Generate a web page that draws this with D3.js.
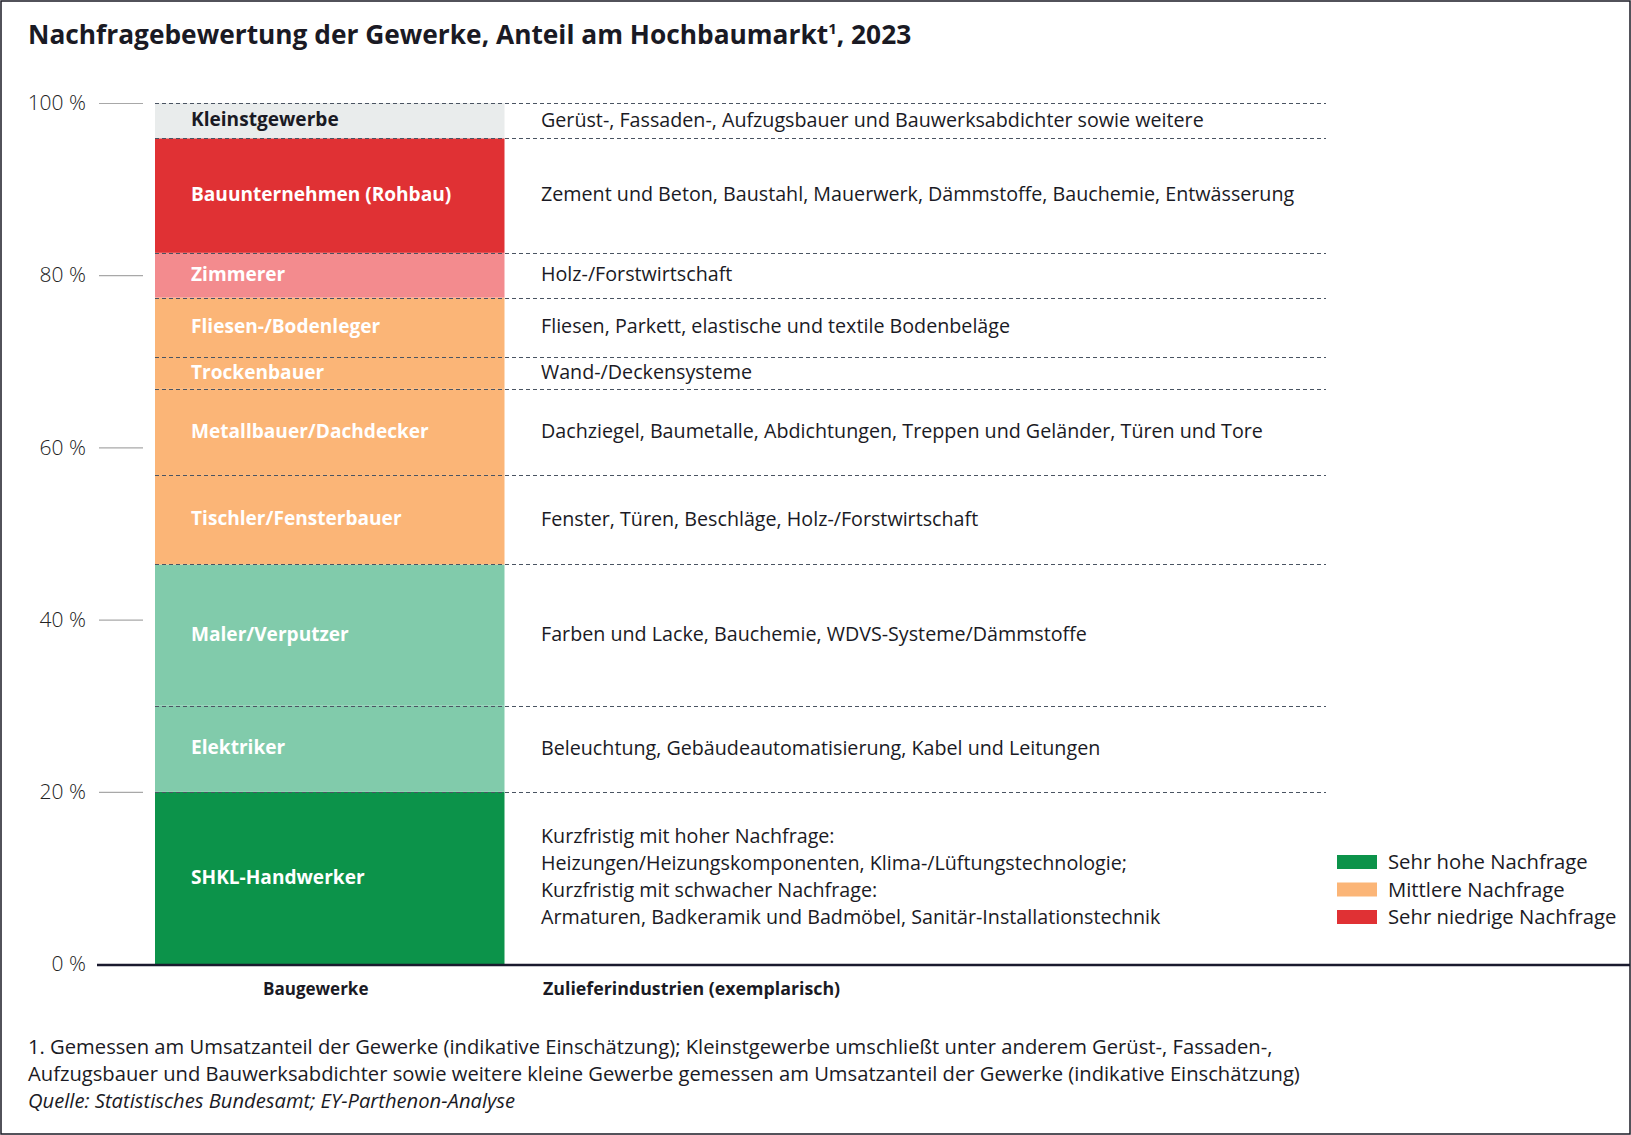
<!DOCTYPE html>
<html><head><meta charset="utf-8">
<script src="https://cdn.jsdelivr.net/npm/d3@7"></script>
<style>
html,body{margin:0;padding:0;background:#fff;}
svg{display:block;font-family:"Open Sans",sans-serif;}
</style></head>
<body>
<script>
// Data (bottom to top)
const trades = ["SHKL-Handwerker","Elektriker","Maler/Verputzer","Tischler/Fensterbauer","Metallbauer/Dachdecker","Trockenbauer","Fliesen-/Bodenleger","Zimmerer","Bauunternehmen (Rohbau)","Kleinstgewerbe"];
const shares = [20, 10, 16.4, 10.4, 10, 3.7, 6.9, 5.2, 13.3, 4.1];
const demand = ["high","highLight","highLight","mid","mid","mid","mid","lowLight","low","other"];
const suppliers = [
  ["Kurzfristig mit hoher Nachfrage:","Heizungen/Heizungskomponenten, Klima-/Lüftungstechnologie;","Kurzfristig mit schwacher Nachfrage:","Armaturen, Badkeramik und Badmöbel, Sanitär-Installationstechnik"],
  ["Beleuchtung, Gebäudeautomatisierung, Kabel und Leitungen"],
  ["Farben und Lacke, Bauchemie, WDVS-Systeme/Dämmstoffe"],
  ["Fenster, Türen, Beschläge, Holz-/Forstwirtschaft"],
  ["Dachziegel, Baumetalle, Abdichtungen, Treppen und Geländer, Türen und Tore"],
  ["Wand-/Deckensysteme"],
  ["Fliesen, Parkett, elastische und textile Bodenbeläge"],
  ["Holz-/Forstwirtschaft"],
  ["Zement und Beton, Baustahl, Mauerwerk, Dämmstoffe, Bauchemie, Entwässerung"],
  ["Gerüst-, Fassaden-, Aufzugsbauer und Bauwerksabdichter sowie weitere"]
];
const yTicks = [0, 20, 40, 60, 80, 100];
const legendLabels = ["Sehr hohe Nachfrage","Mittlere Nachfrage","Sehr niedrige Nachfrage"];
const legendKeys = ["high","mid","low"];
const title = "Nachfragebewertung der Gewerke, Anteil am Hochbaumarkt";
const footnotes = [
  "1. Gemessen am Umsatzanteil der Gewerke (indikative Einschätzung); Kleinstgewerbe umschließt unter anderem Gerüst-, Fassaden-,",
  "Aufzugsbauer und Bauwerksabdichter sowie weitere kleine Gewerbe gemessen am Umsatzanteil der Gewerke (indikative Einschätzung)"
];
const source = "Quelle: Statistisches Bundesamt; EY-Parthenon-Analyse";

const colors = {high:"#0c934a", highLight:"#81cbab", mid:"#fbb577", lowLight:"#f38b8e", low:"#e03134", other:"#e9ecec"};

const W = 1631, H = 1135;
const svg = d3.select("body").append("svg").attr("width", W).attr("height", H);

// frame
svg.append("rect").attr("x",1).attr("y",1).attr("width",W-2).attr("height",H-2)
  .attr("fill","#fff").attr("stroke","#1a1a24").attr("stroke-width",1.5);

// title
const t = svg.append("text").attr("x",28).attr("y",44)
  .attr("font-size",26.3).attr("font-weight",700).attr("fill","#1a1a24");
t.append("tspan").text(title);
t.append("tspan").text("1").attr("font-size",15).attr("dy",-10);
t.append("tspan").text(", 2023").attr("font-size",26.3).attr("dy",10);

const y = d3.scaleLinear().domain([0,100]).range([964,103]);
const barX0 = 155, barX1 = 504.5, lineEnd = 1326;

// stacked data
let acc = 0;
const segs = shares.map((s,i)=>{const d={i, name:trades[i], v0:acc, v1:acc+s, key:demand[i], sup:suppliers[i]}; acc+=s; return d;});

// y axis ticks
const axis = d3.axisLeft(y).tickValues(yTicks).tickSize(44).tickPadding(13)
  .tickFormat(d => d + " %");
const ga = svg.append("g").attr("transform",`translate(143,0)`).call(axis);
ga.select(".domain").remove();
ga.selectAll(".tick line").attr("stroke","#a8a8a8").attr("stroke-width",1.2);
ga.selectAll(".tick text").attr("font-size",21).attr("font-family","Open Sans").attr("font-weight",300).attr("fill","#222");
ga.selectAll(".tick").filter(d=>d===0).select("line").remove();

// bars
svg.append("g").selectAll("rect").data(segs).join("rect")
  .attr("x",barX0).attr("width",barX1-barX0)
  .attr("y",d=>y(d.v1)).attr("height",d=>y(d.v0)-y(d.v1))
  .attr("fill",d=>colors[d.key]);

// dashed separators
const bounds = segs.map(d=>d.v1);
svg.append("g").selectAll("line").data(bounds).join("line")
  .attr("x1",barX0).attr("x2",lineEnd)
  .attr("y1",d=>Math.round(y(d))+0.5).attr("y2",d=>Math.round(y(d))+0.5)
  .attr("stroke","#4a5462").attr("stroke-width",1.2).attr("stroke-dasharray","4,3");

// trade labels
svg.append("g").selectAll("text").data(segs).join("text")
  .attr("x",191)
  .attr("y",d=>(y(d.v0)+y(d.v1))/2 - 1)
  .attr("dy","0.35em")
  .attr("font-size",19.1).attr("font-weight",700)
  .attr("fill",d=>d.key==="other"?"#1a1a24":"#fff")
  .text(d=>d.name);

// supplier texts
const lh = 27;
const sg = svg.append("g").selectAll("text").data(segs).join("text")
  .attr("x",541)
  .attr("y",d=>(y(d.v0)+y(d.v1))/2 - 1 - (d.sup.length-1)*lh/2)
  .attr("font-size",19.7).attr("fill","#1a1a24");
sg.selectAll("tspan").data(d=>d.sup).join("tspan")
  .attr("x",541).attr("dy",(s,j)=> j===0 ? "0.35em" : lh).text(s=>s);

// baseline
svg.append("line").attr("x1",97).attr("x2",W-1).attr("y1",y(0)+1).attr("y2",y(0)+1)
  .attr("stroke","#1a1a2e").attr("stroke-width",2.5);

// column captions
svg.append("text").attr("x",(barX0+barX1)/2-14).attr("y",995).attr("text-anchor","middle")
  .attr("font-size",17).attr("font-weight",700).attr("fill","#1a1a24").text("Baugewerke");
svg.append("text").attr("x",543).attr("y",995)
  .attr("font-size",17.8).attr("font-weight",700).attr("fill","#1a1a24").text("Zulieferindustrien (exemplarisch)");

// legend
const lg = svg.append("g").selectAll("g").data(legendLabels).join("g")
  .attr("transform",(d,i)=>`translate(1337,${862 + i*27.5})`);
lg.append("rect").attr("x",0).attr("y",-7).attr("width",40).attr("height",14)
  .attr("fill",(d,i)=>colors[legendKeys[i]]);
lg.append("text").attr("x",51).attr("dy","0.35em").attr("font-size",20.3).attr("fill","#1a1a24").text(d=>d);

// footnotes
svg.append("g").selectAll("text").data(footnotes).join("text")
  .attr("x",28).attr("y",(d,i)=>1054 + i*27)
  .attr("font-size",20.2).attr("fill","#1a1a24").text(d=>d);
svg.append("text").attr("x",28).attr("y",1108).attr("font-size",20.2).attr("font-style","italic")
  .attr("fill","#1a1a24").text(source);
</script>
</body></html>
